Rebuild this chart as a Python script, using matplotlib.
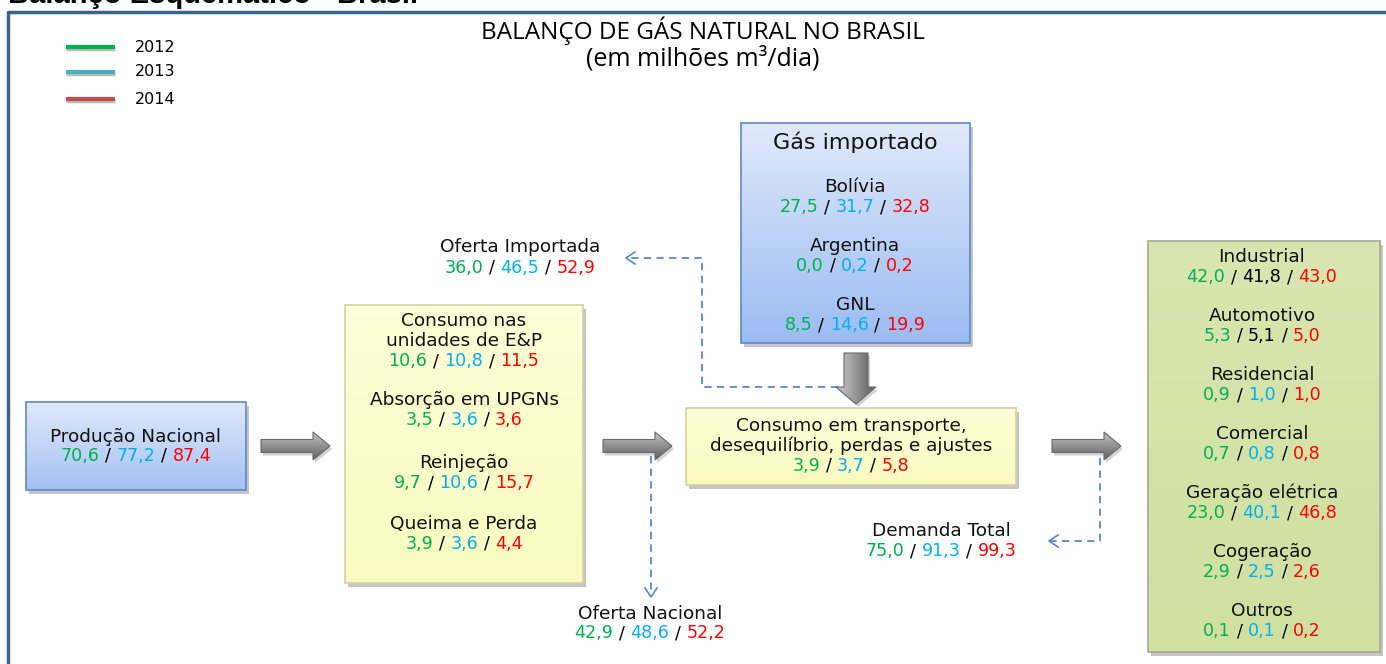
import numpy as np
import matplotlib
matplotlib.use('Agg')
import matplotlib.pyplot as plt
from matplotlib.patches import Rectangle, Polygon
from matplotlib.colors import LinearSegmentedColormap


# Dados do balanço (milhões m³/dia), ordem: 2012 / 2013 / 2014
anos = ['2012', '2013', '2014']
cores_valores = ['#00b050', '#00b0f0', '#ff0000']
cores_legenda = ['#00b050', '#4bacc6', '#c0504d']

producao_nacional = [70.6, 77.2, 87.4]

ep_itens = ['Consumo nas\nunidades de E&P', 'Absorção em UPGNs', 'Reinjeção', 'Queima e Perda']
ep_valores = [[10.6, 10.8, 11.5], [3.5, 3.6, 3.6], [9.7, 10.6, 15.7], [3.9, 3.6, 4.4]]

importado_itens = ['Bolívia', 'Argentina', 'GNL']
importado_valores = [[27.5, 31.7, 32.8], [0.0, 0.2, 0.2], [8.5, 14.6, 19.9]]

oferta_importada = [36.0, 46.5, 52.9]
oferta_nacional = [42.9, 48.6, 52.2]
transporte = [3.9, 3.7, 5.8]
demanda_total = [75.0, 91.3, 99.3]

setores = ['Industrial', 'Automotivo', 'Residencial', 'Comercial',
           'Geração elétrica', 'Cogeração', 'Outros']
setores_valores = [[42.0, 41.8, 43.0], [5.3, 5.1, 5.0], [0.9, 1.0, 1.0], [0.7, 0.8, 0.8],
                   [23.0, 40.1, 46.8], [2.9, 2.5, 2.6], [0.1, 0.1, 0.2]]
# no original os valores de 2013 destes setores aparecem em preto
setores_2013_preto = ['Industrial', 'Automotivo']


FONTE = 'DejaVu Sans'
TAM_ROTULO = 13.3
TAM_VALOR = 12.6
W, H = 1386, 664

fig = plt.figure(figsize=(W / 100, H / 100), dpi=100)
ax = fig.add_axes([0, 0, 1, 1])
ax.set_xlim(0, W)
ax.set_ylim(H, 0)
ax.axis('off')
renderer = fig.canvas.get_renderer()


def fmt(v):
    return f'{v:.1f}'.replace('.', ',')


def largura(s, size):
    t = ax.text(0, 0, s, fontsize=size, family=FONTE)
    w = t.get_window_extent(renderer).width
    t.remove()
    return w


def linha_valores(cx, y, vals, cores, size=TAM_VALOR):
    partes = []
    for i, v in enumerate(vals):
        if i > 0:
            partes.append(('/', 'black'))
        partes.append((fmt(v), cores[i]))
    espaco = largura('a a', size) - largura('aa', size)
    larguras = [largura(p, size) for p, _ in partes]
    total = sum(larguras) + espaco * (len(partes) - 1)
    x = cx - total / 2
    for (p, c), w in zip(partes, larguras):
        ax.text(x, y, p, color=c, fontsize=size, family=FONTE, ha='left', va='center')
        x += w + espaco


def rotulo(cx, y, s, size=TAM_ROTULO, passo=20):
    # uma linha de texto por vez, com espaçamento fixo em pixels
    for k, linha in enumerate(s.split('\n')):
        ax.text(cx, y + k * passo, linha, fontsize=size, family=FONTE, ha='center',
                va='center', color='#111111')


def gradiente(patch, c1, c2, horizontal=False, z=2):
    ax.add_patch(patch)
    verts = patch.get_path().vertices
    verts = patch.get_patch_transform().transform(verts) if isinstance(patch, Rectangle) else verts
    x0, y0 = verts.min(axis=0)
    x1, y1 = verts.max(axis=0)
    g = np.linspace(0, 1, 256)
    g = g[None, :] if horizontal else g[:, None]
    cmap = LinearSegmentedColormap.from_list('g', [c1, c2])
    im = ax.imshow(g, cmap=cmap, extent=[x0, x1, y1, y0], origin='upper',
                   aspect='auto', zorder=z, interpolation='bicubic')
    im.set_clip_path(patch)


def caixa(x0, y0, x1, y1, c1, c2, borda):
    ax.add_patch(Rectangle((x0 + 3, y0 + 4), x1 - x0, y1 - y0, color='#7f7f7f',
                           alpha=0.45, lw=0, zorder=1))
    fundo = Rectangle((x0, y0), x1 - x0, y1 - y0, facecolor='none', lw=0, zorder=2)
    gradiente(fundo, c1, c2)
    ax.add_patch(Rectangle((x0, y0), x1 - x0, y1 - y0, facecolor='none',
                           edgecolor=borda, lw=1.2, zorder=3))


def seta_direita(x0, x1, yc, haste=6.5, cabeca=14, comp_cabeca=17):
    xh = x1 - comp_cabeca
    pts = np.array([(x0, yc - haste), (xh, yc - haste), (xh, yc - cabeca), (x1, yc),
                    (xh, yc + cabeca), (xh, yc + haste), (x0, yc + haste)])
    ax.add_patch(Polygon(pts + [2, 3], closed=True, color='#909090', alpha=0.4, lw=0, zorder=1))
    gradiente(Polygon(pts, closed=True, facecolor='none', lw=0), '#c4c4c4', '#5e5e5e')
    ax.add_patch(Polygon(pts, closed=True, facecolor='none', edgecolor='#6a6a6a', lw=0.8, zorder=3))


def seta_baixo(xc, y0, y1, haste=12, cabeca=20, comp_cabeca=17):
    yh = y1 - comp_cabeca
    pts = np.array([(xc - haste, y0), (xc - haste, yh), (xc - cabeca, yh), (xc, y1),
                    (xc + cabeca, yh), (xc + haste, yh), (xc + haste, y0)])
    ax.add_patch(Polygon(pts + [2, 3], closed=True, color='#909090', alpha=0.4, lw=0, zorder=1))
    gradiente(Polygon(pts, closed=True, facecolor='none', lw=0), '#d0d0d0', '#5a5a5a', horizontal=True)
    ax.add_patch(Polygon(pts, closed=True, facecolor='none', edgecolor='#6a6a6a', lw=0.8, zorder=3))


def tracejado(xs, ys, direcao):
    cor = '#5b87c7'
    ax.plot(xs, ys, color=cor, lw=1.3, ls=(0, (4, 3)), zorder=2)
    tx, ty = xs[-1], ys[-1]
    if direcao == 'esquerda':
        ax.plot([tx + 9, tx, tx + 9], [ty - 6, ty, ty + 6], color=cor, lw=1.2)
    else:
        ax.plot([tx - 6, tx, tx + 6], [ty - 9, ty, ty - 9], color=cor, lw=1.2)


# moldura e título cortado do slide
ax.plot([8, 8, W + 5], [H + 5, 12, 12], color='#3d6290', lw=2.5, zorder=5)
ax.text(8, 3, 'Balanço Esquemático - Brasil', fontsize=21, fontweight='bold',
        family='Liberation Sans', ha='left', va='baseline')

ax.text(703, 31, 'BALANÇO DE GÁS NATURAL NO BRASIL', fontsize=17.5, family='Open Sans',
        ha='center', va='center')
ax.text(703, 59, '(em milhões m³/dia)', fontsize=18, family='Open Sans', ha='center', va='center')

# legenda
for i, (ano, cor) in enumerate(zip(anos, cores_legenda)):
    yl = [47, 72, 99][i]
    ax.plot([66, 115], [yl + 2, yl + 2], color='#bbbbbb', lw=2.5, solid_capstyle='butt')
    ax.plot([66, 115], [yl, yl], color=cor, lw=3, solid_capstyle='butt')
    ax.text(135, yl, ano, fontsize=11.5, family=FONTE, ha='left', va='center')

# caixas
azul1, azul2, borda_azul = '#e0e9fa', '#a3c1f3', '#5f88c6'
amar1, amar2, borda_amar = '#ffffd8', '#f9f9c0', '#d2d2a8'
caixa(26, 402, 246, 490, azul1, azul2, borda_azul)
caixa(345, 305, 583, 583, amar1, amar2, borda_amar)
caixa(741, 123, 970, 343, azul1, '#9bbcf2', borda_azul)
caixa(686, 408, 1016, 485, amar1, amar2, borda_amar)
caixa(1148, 241, 1380, 652, '#d9e6b0', '#cfe0a0', '#a4a890')

# setas
seta_direita(261, 330, 446)
seta_direita(603, 672, 446)
seta_direita(1052, 1121, 446)
seta_baixo(856, 353, 404)

tracejado([838, 702, 702, 626], [387, 387, 258, 258], 'esquerda')
tracejado([651, 651], [456, 597], 'baixo')
tracejado([1100, 1100, 1049], [458, 541, 541], 'esquerda')

# textos
rotulo(136, 437, 'Produção Nacional')
linha_valores(136, 456, producao_nacional, cores_valores)

ep_y = [321, 400, 463, 524]
for nome, vals, y in zip(ep_itens, ep_valores, ep_y):
    rotulo(464, y, nome)
    linha_valores(464, y + 20 * (nome.count('\n') + 1), vals, cores_valores)

rotulo(855, 142, 'Gás importado', size=16)
for nome, vals, y in zip(importado_itens, importado_valores, [187, 246, 305]):
    rotulo(855, y, nome)
    linha_valores(855, y + 20, vals, cores_valores)

rotulo(851, 426, 'Consumo em transporte,\ndesequilíbrio, perdas e ajustes')
linha_valores(851, 466, transporte, cores_valores)

rotulo(520, 247, 'Oferta Importada')
linha_valores(520, 268, oferta_importada, cores_valores)
rotulo(650, 614, 'Oferta Nacional')
linha_valores(650, 633, oferta_nacional, cores_valores)
rotulo(941, 531, 'Demanda Total')
linha_valores(941, 551, demanda_total, cores_valores)

for i, (nome, vals) in enumerate(zip(setores, setores_valores)):
    y = 257 + i * 59
    cores = list(cores_valores)
    if nome in setores_2013_preto:
        cores[1] = 'black'
    rotulo(1262, y, nome)
    linha_valores(1262, y + 20, vals, cores)

ax.set_xlim(0, W)
ax.set_ylim(H, 0)
fig.savefig('out.png', dpi=100)
